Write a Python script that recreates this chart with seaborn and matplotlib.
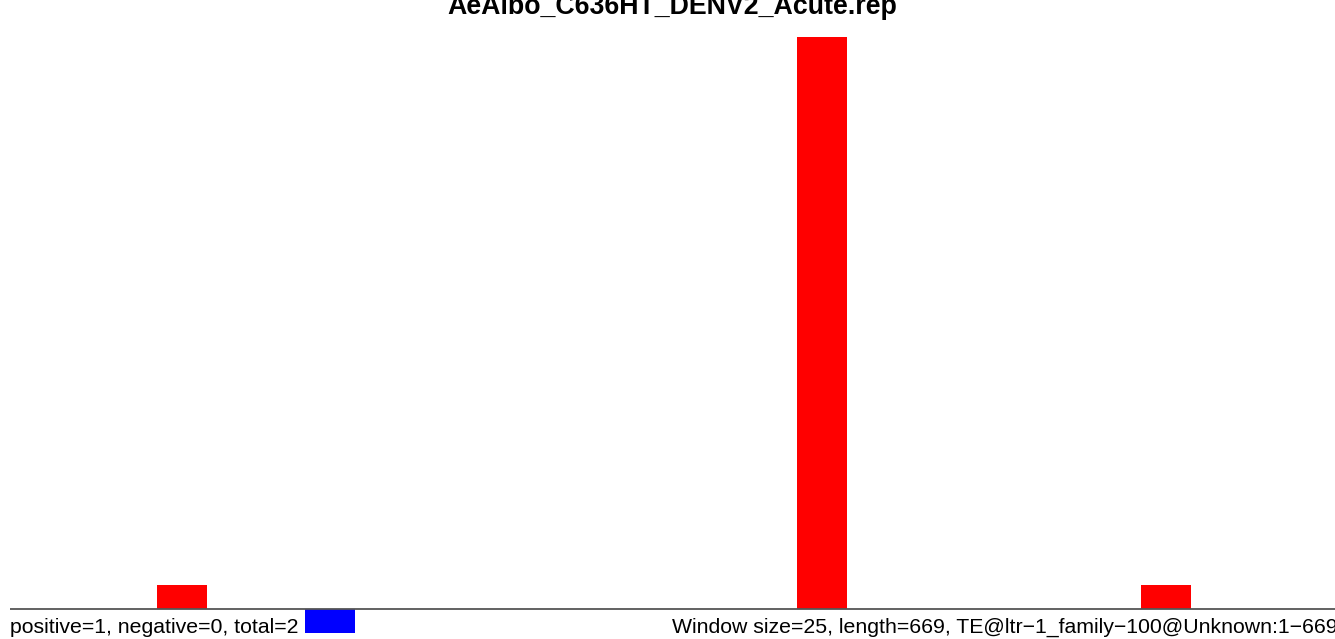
import matplotlib
matplotlib.use("Agg")
import matplotlib.pyplot as plt
import seaborn as sns
import pandas as pd

# ---- data ----
title = "AeAlbo_C636HT_DENV2_Acute.rep"
window_size = 25
seq_length = 669
window_starts = [75, 150, 400, 575]
counts = [1, -1, 24, 1]
strand = ["positive", "negative", "positive", "positive"]
left_label = "positive=1, negative=0, total=2"
right_label = "Window size=25, length=669, TE@ltr\u22121_family\u2212100@Unknown:1\u2212669"

df = pd.DataFrame({
    "center": [s + window_size / 2 for s in window_starts],
    "count": counts,
    "strand": strand,
})

sns.set_theme(style="white")
plt.rcParams["font.family"] = ["Liberation Sans", "DejaVu Sans"]

W, H = 1335, 639
px_per_unit = 1.968
fig = plt.figure(figsize=(W / 100, H / 100), dpi=100)
ax = fig.add_axes([10 / W, 0, 1325 / W, 1 - 37 / H])

bar_width_units = 50 / px_per_unit  # bars drawn 50 px wide
min_gap = min(b - a for a, b in zip(sorted(df["center"])[:-1], sorted(df["center"])[1:]))
sns.barplot(data=df, x="center", y="count", hue="strand",
            palette={"positive": "#ff0000", "negative": "#0000ff"},
            native_scale=True, dodge=False, width=bar_width_units / min_gap,
            errorbar=None, legend=False, ax=ax, linewidth=0, saturation=1)

xmax = 1325 / px_per_unit
ax.set_xlim(0.0, xmax)
ax.set_ylim(-30 / ((602 - 30) / 24), 24)
ax.axhline(0, color="#555555", lw=1.3, zorder=3)
ax.set_axis_off()

fig.text(672.5 / W, 1 - 14 / H, title, ha="center", va="baseline",
         fontsize=19.3, fontweight="bold", color="black")
fig.text(10 / W, 1 - 633 / H, left_label, ha="left", va="baseline",
         fontsize=15.3, color="black")
fig.text(672 / W, 1 - 633 / H, right_label, ha="left", va="baseline",
         fontsize=15.3, color="black")

fig.savefig("out.png", dpi=100)
